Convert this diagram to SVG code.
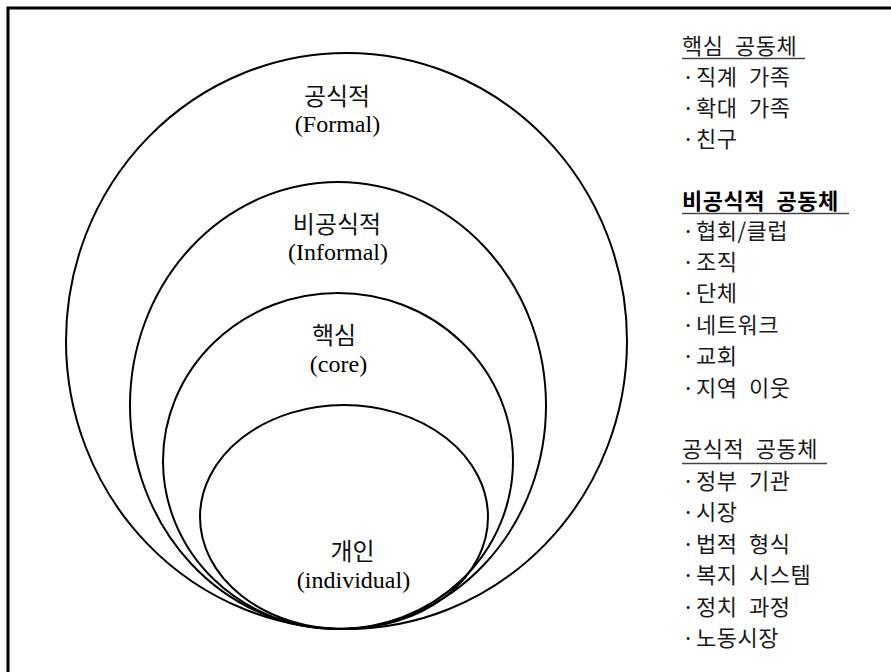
<svg xmlns="http://www.w3.org/2000/svg" width="891" height="672" viewBox="0 0 891 672">
<style>
.ring{fill:none;stroke:#000;stroke-width:2}
.ko{font-family:"Noto Sans CJK KR","Noto Sans",sans-serif;font-size:24px;fill:#111;text-anchor:middle}
.en{font-family:"Liberation Serif",serif;font-size:24px;fill:#000;text-anchor:middle}
.li{font-family:"Noto Sans CJK KR","Noto Sans",sans-serif;font-size:22px;fill:#1a1a1a;letter-spacing:0.5px;word-spacing:6px}
.hb{font-weight:bold;fill:#000}
.ul{stroke:#444;stroke-width:1.3}
</style>
<rect width="891" height="672" fill="#fff"/>
<g id="frame" stroke="#000" stroke-width="3" fill="none">
<path d="M8 672 V8 H891"/>
</g>
<g id="formal">
<ellipse class="ring" cx="346.5" cy="341" rx="280.5" ry="288"/>
<text class="ko" x="337" y="105">공식적</text>
<text class="en" x="337.5" y="132">(Formal)</text>
</g>
<g id="informal">
<ellipse class="ring" cx="338" cy="405.5" rx="208" ry="223.5"/>
<text class="ko" x="337" y="233">비공식적</text>
<text class="en" x="338" y="260">(Informal)</text>
</g>
<g id="core">
<ellipse class="ring" cx="338" cy="461" rx="175" ry="168"/>
<text class="ko" x="334" y="344">핵심</text>
<text class="en" x="338.5" y="372">(core)</text>
</g>
<g id="individual">
<ellipse class="ring" cx="344" cy="517" rx="144" ry="112"/>
<text class="ko" x="352.5" y="560">개인</text>
<text class="en" x="353.5" y="588">(individual)</text>
</g>
<g id="list-core">
<text class="li" x="682" y="54">핵심 공동체</text>
<line class="ul" x1="682" y1="58.5" x2="805" y2="58.5"/>
<text class="li" x="682" y="85">·</text><text class="li" x="696" y="85">직계 가족</text>
<text class="li" x="682" y="116">·</text><text class="li" x="696" y="116">확대 가족</text>
<text class="li" x="682" y="147">·</text><text class="li" x="696" y="147">친구</text>
</g>
<g id="list-informal">
<text class="li hb" x="682" y="209">비공식적 공동체</text>
<line class="ul" x1="682" y1="213.5" x2="849" y2="213.5"/>
<text class="li" x="682" y="239">·</text><text class="li" x="696" y="239">협회/클럽</text>
<text class="li" x="682" y="270">·</text><text class="li" x="696" y="270">조직</text>
<text class="li" x="682" y="301">·</text><text class="li" x="696" y="301">단체</text>
<text class="li" x="682" y="333">·</text><text class="li" x="696" y="333">네트워크</text>
<text class="li" x="682" y="364">·</text><text class="li" x="696" y="364">교회</text>
<text class="li" x="682" y="396">·</text><text class="li" x="696" y="396">지역 이웃</text>
</g>
<g id="list-formal">
<text class="li" x="682" y="457">공식적 공동체</text>
<line class="ul" x1="682" y1="463.5" x2="827" y2="463.5"/>
<text class="li" x="682" y="489">·</text><text class="li" x="696" y="489">정부 기관</text>
<text class="li" x="682" y="520">·</text><text class="li" x="696" y="520">시장</text>
<text class="li" x="682" y="552">·</text><text class="li" x="696" y="552">법적 형식</text>
<text class="li" x="682" y="583">·</text><text class="li" x="696" y="583">복지 시스템</text>
<text class="li" x="682" y="615">·</text><text class="li" x="696" y="615">정치 과정</text>
<text class="li" x="682" y="646">·</text><text class="li" x="696" y="646">노동시장</text>
</g>
</svg>
